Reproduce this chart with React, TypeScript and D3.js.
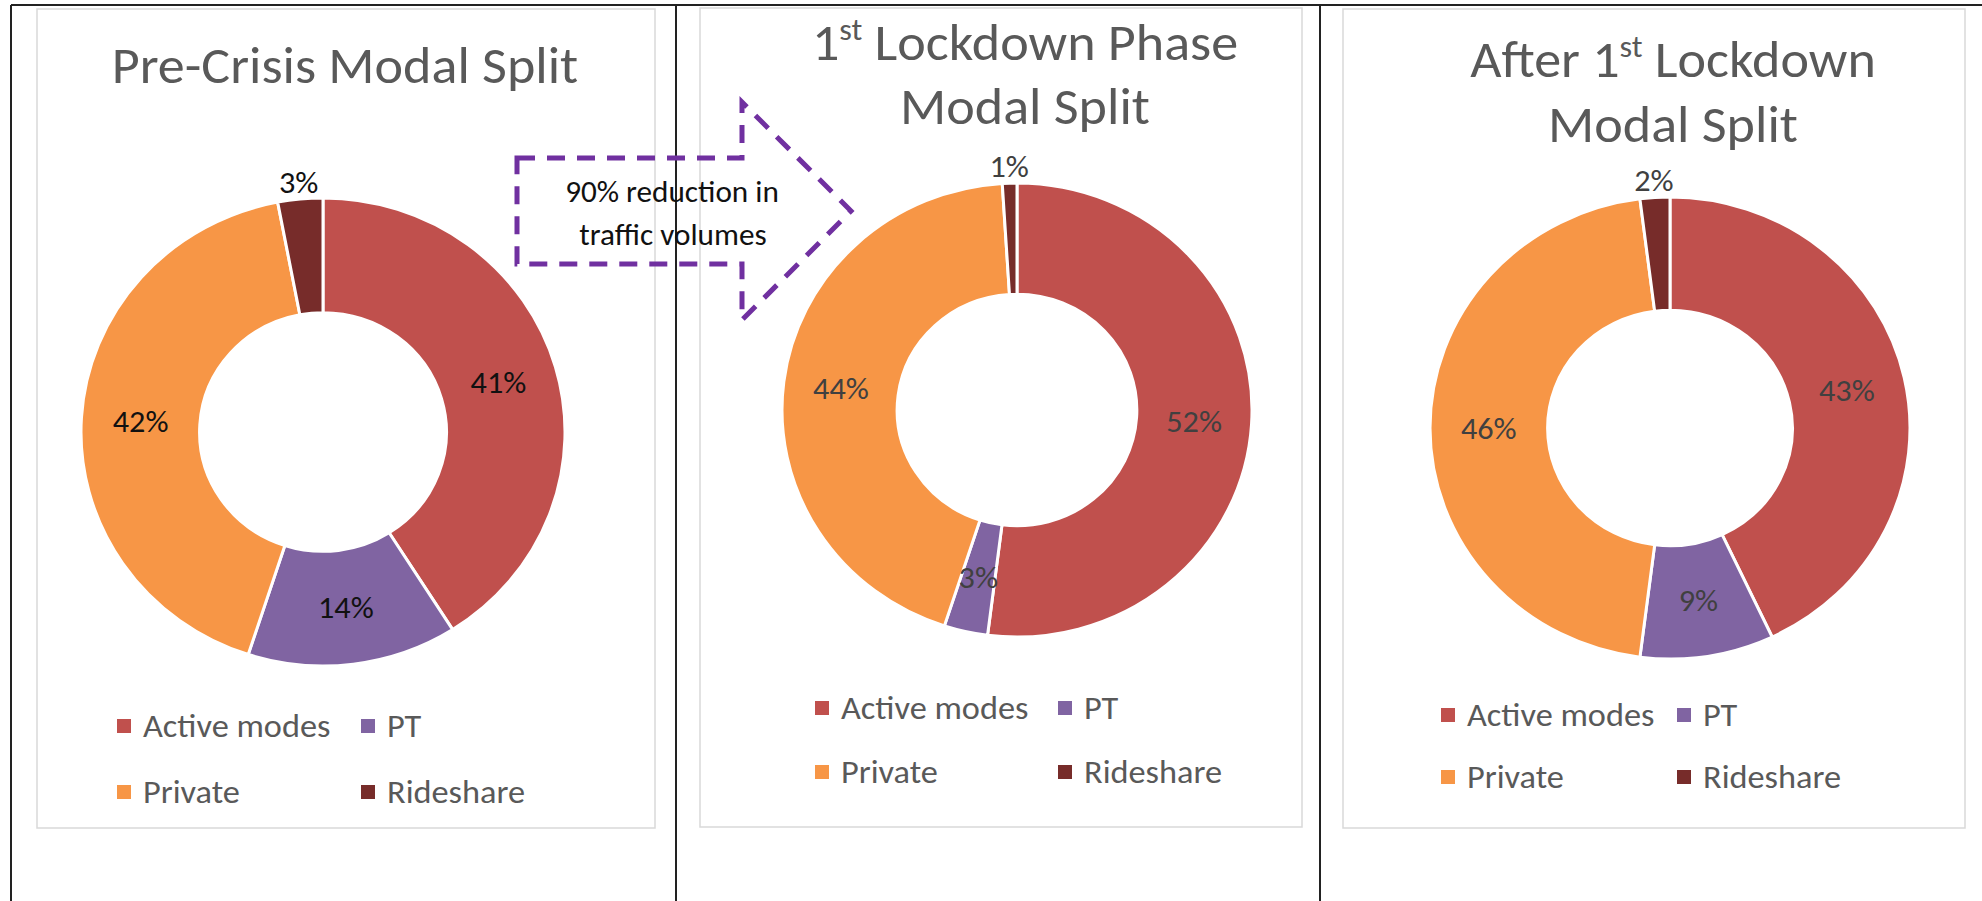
import * as d3 from 'd3';
import type { ReactNode } from 'react';

const categories = ['Active modes', 'PT', 'Private', 'Rideshare'];
const preCrisis = [41, 14, 42, 3];
const lockdown = [52, 3, 44, 1];
const afterLockdown = [43, 9, 46, 2];
const colors = ['#C0504D', '#8064A2', '#F79646', '#772C2A'];

const W = 1982;
const H = 901;
const FONT = 'Carlito, Calibri, Lato, sans-serif';
// the source picture is a touch wider than tall, text included
const STRETCH = 1.04;

type Panel = {
  values: number[];
  title: string[];
  titleX: number;
  titleY: number[];
  box: [number, number, number, number];
  cx: number;
  cy: number;
  rx: number;
  ry: number;
  legendX: [number, number];
  legendY: [number, number];
  labelColor: string;
};

const panels: Panel[] = [
  {
    values: preCrisis,
    title: ['Pre-Crisis Modal Split'],
    titleX: 345,
    titleY: [83],
    box: [37, 9, 655, 828],
    cx: 323,
    cy: 432,
    rx: 242,
    ry: 234,
    legendX: [117, 361],
    legendY: [726, 792],
    labelColor: '#111',
  },
  {
    values: lockdown,
    title: ['1|st| Lockdown Phase', 'Modal Split'],
    titleX: 1025,
    titleY: [60, 124],
    box: [700, 8, 1302, 827],
    cx: 1017,
    cy: 410,
    rx: 235,
    ry: 227,
    legendX: [815, 1058],
    legendY: [708, 772],
    labelColor: '#404040',
  },
  {
    values: afterLockdown,
    title: ['After 1|st| Lockdown', 'Modal Split'],
    titleX: 1673,
    titleY: [77, 142],
    box: [1343, 9, 1965, 828],
    cx: 1670,
    cy: 428,
    rx: 240,
    ry: 231,
    legendX: [1441, 1677],
    legendY: [715, 777],
    labelColor: '#404040',
  },
];

function SText(props: {
  x: number;
  y: number;
  size: number;
  fill: string;
  anchor?: 'start' | 'middle' | 'end';
  central?: boolean;
  children: ReactNode;
}) {
  const { x, y, size, fill, anchor = 'start', central = false, children } = props;
  return (
    <g transform={`translate(${x},${y}) scale(${STRETCH},1)`}>
      <text
        textAnchor={anchor}
        dominantBaseline={central ? 'central' : undefined}
        fontSize={size}
        fill={fill}
        fontFamily={FONT}
      >
        {children}
      </text>
    </g>
  );
}

function TitleLine({ text, x, y }: { text: string; x: number; y: number }) {
  const parts = text.split('|');
  return (
    <SText x={x} y={y} size={52} fill='#595959' anchor='middle'>
      {parts.length === 1 ? (
        text
      ) : (
        <>
          <tspan>{parts[0]}</tspan>
          <tspan dy={-20} fontSize={31}>{parts[1]}</tspan>
          <tspan dy={20}>{parts[2]}</tspan>
        </>
      )}
    </SText>
  );
}

function Donut({ p }: { p: Panel }) {
  const pie = d3.pie<number>().sort(null).value((d) => d);
  const arcs = pie(p.values);
  const inner = p.ry * 0.51;
  const arc = d3.arc<d3.PieArcDatum<number>>().innerRadius(inner).outerRadius(p.ry);
  const sx = p.rx / p.ry;
  const total = d3.sum(p.values);

  return (
    <g>
      <rect
        x={p.box[0]}
        y={p.box[1]}
        width={p.box[2] - p.box[0]}
        height={p.box[3] - p.box[1]}
        fill='none'
        stroke='#D9D9D9'
        strokeWidth={1.5}
      />
      {p.title.map((t, i) => (
        <TitleLine key={i} text={t} x={p.titleX} y={p.titleY[i]} />
      ))}
      <g transform={`translate(${p.cx},${p.cy}) scale(${sx},1)`}>
        {arcs.map((a, i) => (
          <path
            key={i}
            d={arc(a) ?? ''}
            fill={colors[i]}
            stroke='white'
            strokeWidth={3}
            vectorEffect='non-scaling-stroke'
          />
        ))}
      </g>
      {arcs.map((a, i) => {
        const mid = (a.startAngle + a.endAngle) / 2;
        const pct = Math.round((a.data / total) * 100);
        // tiny slices at the top get their label outside the ring
        const outside = pct < 4 && Math.cos(mid) > 0.8;
        let x: number;
        let y: number;
        if (outside) {
          const r = p.ry + 17;
          x = p.cx + Math.sin(mid) * r * sx;
          y = p.cy - Math.cos(mid) * r;
        } else {
          const [c0, c1] = arc.centroid(a);
          x = p.cx + c0 * sx;
          y = p.cy + c1;
        }
        return (
          <SText key={i} x={x} y={y} size={31} fill={p.labelColor} anchor='middle' central>
            {pct}%
          </SText>
        );
      })}
      {categories.map((c, i) => {
        const lx = p.legendX[i % 2];
        const ly = p.legendY[Math.floor(i / 2)];
        return (
          <g key={c}>
            <rect x={lx} y={ly - 7} width={14} height={14} fill={colors[i]} />
            <SText x={lx + 26} y={ly} size={33} fill='#595959' central>
              {c}
            </SText>
          </g>
        );
      })}
    </g>
  );
}

export default function App() {
  const arrow: [number, number][] = [
    [517, 158],
    [742, 158],
    [742, 102],
    [851, 211],
    [742, 320],
    [742, 264],
    [517, 264],
  ];
  const arrowPath = d3.line()(arrow) + 'Z';

  return (
    <svg
      width={W}
      height={H}
      style={{ position: 'absolute', left: 0, top: 0, background: 'white' }}
    >
      <rect width={W} height={H} fill='white' />
      {panels.map((p, i) => (
        <Donut key={i} p={p} />
      ))}
      {/* table frame */}
      <g stroke='#222' strokeWidth={2}>
        <line x1={11} y1={5} x2={W} y2={5} />
        <line x1={11} y1={5} x2={11} y2={H} />
        <line x1={676} y1={5} x2={676} y2={H} />
        <line x1={1320} y1={5} x2={1320} y2={H} />
      </g>
      <path
        d={arrowPath}
        fill='none'
        stroke='#7030A0'
        strokeWidth={5}
        strokeDasharray='18 12'
      />
      <SText x={672} y={192} size={30} fill='#111' anchor='middle' central>
        90% reduction in
      </SText>
      <SText x={673} y={235} size={30} fill='#111' anchor='middle' central>
        traffic volumes
      </SText>
    </svg>
  );
}
